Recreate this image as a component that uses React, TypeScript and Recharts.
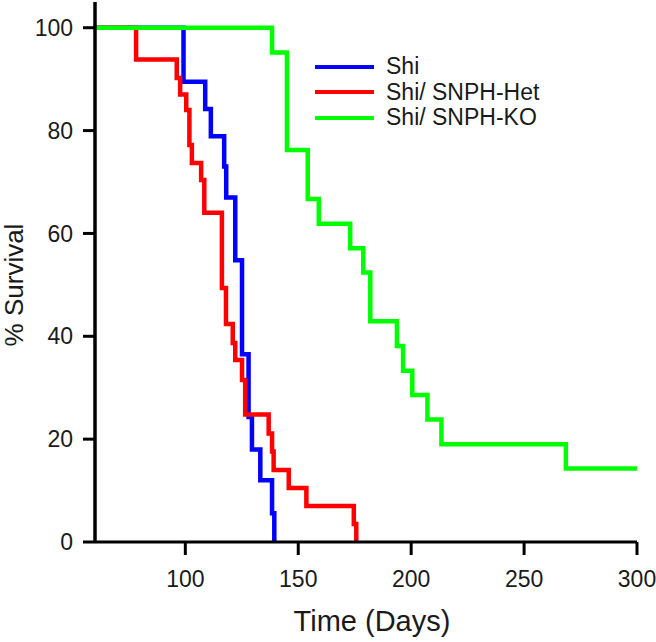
import { LineChart, Line, XAxis, YAxis, Legend } from 'recharts';

// Kaplan-Meier steps: each point is where the curve drops
const shiDays = [60, 99.2, 108.8, 111.3, 117.2, 118.1, 122.1, 125.1, 128.0, 129.5, 133.2, 138.4, 139.4];
const shiSurv = [100, 89.5, 84.2, 78.9, 73.0, 67.0, 54.8, 36.5, 24.3, 18.0, 12.0, 5.6, 0];

const hetDays = [60, 78.2, 96.2, 97.7, 100.4, 101.8, 102.9, 107.0, 108.4, 116.2, 118.0, 121.0, 122.1, 125.1, 126.5, 136.9, 138.4, 139.1, 145.8, 153.6, 174.6, 175.7];
const hetSurv = [100, 93.8, 90.2, 87.0, 84.0, 77.2, 73.7, 70.4, 64.0, 49.4, 42.4, 38.7, 35.4, 31.5, 24.8, 21.1, 17.6, 14.0, 10.5, 7.0, 3.5, 0];

const koDays = [60, 138.4, 145.0, 154.2, 159.1, 173.0, 178.8, 181.9, 193.7, 196.4, 200.5, 207.2, 213.4, 268.5, 300];
const koSurv = [100, 95.2, 76.2, 66.7, 61.9, 57.1, 52.4, 42.9, 38.1, 33.3, 28.6, 23.8, 19.0, 14.3, 14.3];

const xTicks = [100, 150, 200, 250, 300];
const yTicks = [0, 20, 40, 60, 80, 100];

const toRows = (days: number[], surv: number[]) => days.map((d, i) => ({ day: d, surv: surv[i] }));

const SERIES = [
  { name: 'Shi', color: '#0000ff', data: toRows(shiDays, shiSurv) },
  { name: 'Shi/ SNPH-Het', color: '#ff0000', data: toRows(hetDays, hetSurv) },
  { name: 'Shi/ SNPH-KO', color: '#00ff00', data: toRows(koDays, koSurv) },
];

const FONT = '"Liberation Sans", Arial, sans-serif';
const INK = '#1a1a1a';

const renderLegend = (props: any) => (
  <div style={{ display: 'flex', flexDirection: 'column', fontFamily: FONT }}>
    {(props.payload || []).map((p: any) => (
      <div key={p.value} style={{ display: 'flex', alignItems: 'center', height: 25.5 }}>
        <span style={{ width: 59, height: 4, background: p.color, flexShrink: 0 }} />
        <span style={{ marginLeft: 12, fontSize: 23, color: INK, whiteSpace: 'nowrap' }}>{p.value}</span>
      </div>
    ))}
  </div>
);

export default function App() {
  const tickStyle = { fontSize: 23, fill: INK, fontFamily: FONT };
  return (
    <div style={{ position: 'absolute', left: 0, top: 0, width: 656, height: 642, background: '#fff' }}>
      <LineChart width={656} height={642} margin={{ top: 2, right: 19, left: 0, bottom: 0 }}>
        <XAxis
          type="number"
          dataKey="day"
          domain={[60, 300]}
          ticks={xTicks}
          height={100}
          axisLine={{ stroke: '#000', strokeWidth: 3 }}
          tickLine={{ stroke: '#000', strokeWidth: 3 }}
          tickSize={13}
          tickMargin={16}
          tick={tickStyle}
        />
        <YAxis
          type="number"
          domain={[0, 105]}
          ticks={yTicks}
          width={95}
          axisLine={{ stroke: '#000', strokeWidth: 3.5 }}
          tickLine={{ stroke: '#000', strokeWidth: 3 }}
          tickSize={12}
          tickMargin={10}
          tick={tickStyle}
        />
        <Legend
          layout="vertical"
          align="center"
          verticalAlign="middle"
          wrapperStyle={{ left: 315, top: 54, width: 'auto' }}
          content={renderLegend}
        />
        {SERIES.map((s) => (
          <Line
            key={s.name}
            name={s.name}
            data={s.data}
            dataKey="surv"
            type="stepAfter"
            stroke={s.color}
            strokeWidth={4.5}
            dot={false}
            activeDot={false}
            isAnimationActive={false}
          />
        ))}
      </LineChart>
      <div
        style={{
          position: 'absolute', left: 14, top: 285,
          transform: 'translate(-50%, -50%) rotate(-90deg)',
          fontFamily: FONT, fontSize: 26, color: INK, whiteSpace: 'nowrap',
        }}
      >
        % Survival
      </div>
      <div
        style={{
          position: 'absolute', left: 372, top: 621,
          transform: 'translate(-50%, -50%)',
          fontFamily: FONT, fontSize: 29, color: INK, whiteSpace: 'nowrap',
        }}
      >
        Time (Days)
      </div>
    </div>
  );
}
